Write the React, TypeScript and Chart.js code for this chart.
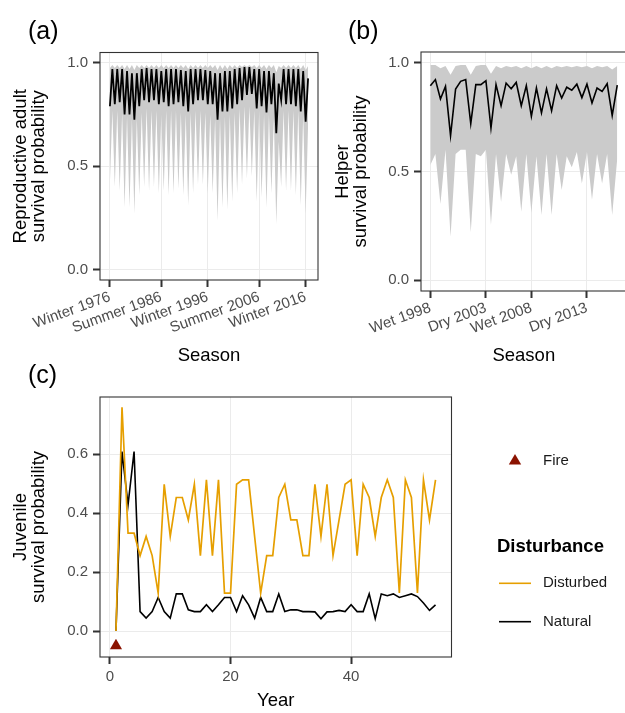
import React, { useEffect, useRef } from 'react';
import { Chart, registerables } from 'chart.js';

Chart.register(...registerables);

const FONT = '"Liberation Sans", Arial, Helvetica, sans-serif';
const TICK_TEXT = '#4D4D4D';
const GRID = '#EBEBEB';
const BORDER = '#333333';
const RIBBON = '#CBCBCB';
const ORANGE = '#E69F00';
const FIRE = '#8B1300';

// ---------- Panel (a): reproductive adults ----------
const adultTickIdx = [0, 21, 40, 61, 80];
const adultTickLabels = ['Winter 1976', 'Summer 1986', 'Winter 1996', 'Summer 2006', 'Winter 2016'];
const adultMean = [
  0.79, 0.97, 0.80, 0.97, 0.81, 0.97, 0.75, 0.96, 0.75, 0.95,
  0.725, 0.95, 0.79, 0.97, 0.82, 0.975, 0.81, 0.97, 0.82, 0.97,
  0.80, 0.96, 0.81, 0.97, 0.79, 0.97, 0.80, 0.97, 0.81, 0.965,
  0.79, 0.96, 0.765, 0.97, 0.80, 0.97, 0.82, 0.97, 0.82, 0.965,
  0.80, 0.96, 0.80, 0.95, 0.725, 0.95, 0.765, 0.96, 0.765, 0.96,
  0.78, 0.97, 0.80, 0.975, 0.82, 0.98, 0.845, 0.98, 0.85, 0.97,
  0.78, 0.97, 0.79, 0.96, 0.76, 0.96, 0.80, 0.95, 0.66, 0.90,
  0.82, 0.97, 0.80, 0.97, 0.80, 0.97, 0.79, 0.97, 0.765, 0.96,
  0.715, 0.925,
];
const adultUpper = [
  0.975, 0.99, 0.975, 0.99, 0.975, 0.99, 0.97, 0.99, 0.97, 0.99,
  0.965, 0.99, 0.975, 0.99, 0.975, 0.99, 0.975, 0.99, 0.975, 0.99,
  0.975, 0.99, 0.975, 0.99, 0.975, 0.99, 0.975, 0.99, 0.975, 0.99,
  0.975, 0.99, 0.97, 0.99, 0.975, 0.99, 0.975, 0.99, 0.975, 0.99,
  0.975, 0.99, 0.975, 0.99, 0.965, 0.99, 0.97, 0.99, 0.97, 0.99,
  0.975, 0.99, 0.975, 0.99, 0.98, 0.99, 0.98, 0.99, 0.98, 0.99,
  0.975, 0.99, 0.975, 0.99, 0.97, 0.99, 0.975, 0.99, 0.955, 0.985,
  0.975, 0.99, 0.975, 0.99, 0.975, 0.99, 0.975, 0.99, 0.97, 0.99,
  0.965, 0.985,
];
const adultLower = [
  0.42, 0.77, 0.40, 0.77, 0.38, 0.76, 0.30, 0.74, 0.30, 0.73,
  0.27, 0.73, 0.36, 0.76, 0.40, 0.78, 0.38, 0.77, 0.40, 0.77,
  0.37, 0.75, 0.38, 0.77, 0.36, 0.77, 0.37, 0.77, 0.39, 0.76,
  0.36, 0.75, 0.31, 0.76, 0.37, 0.77, 0.41, 0.77, 0.41, 0.76,
  0.37, 0.75, 0.37, 0.73, 0.235, 0.73, 0.30, 0.74, 0.29, 0.75,
  0.33, 0.76, 0.37, 0.78, 0.41, 0.79, 0.44, 0.79, 0.45, 0.77,
  0.33, 0.77, 0.35, 0.75, 0.30, 0.75, 0.37, 0.73, 0.22, 0.62,
  0.40, 0.77, 0.38, 0.77, 0.38, 0.77, 0.36, 0.77, 0.31, 0.75,
  0.27, 0.70,
];

// ---------- Panel (b): helpers ----------
const helperTickIdx = [0, 11, 20, 31];
const helperTickLabels = ['Wet 1998', 'Dry 2003', 'Wet 2008', 'Dry 2013'];
const helperMean = [
  0.895, 0.923, 0.834, 0.892, 0.665, 0.88, 0.915, 0.923, 0.72, 0.90,
  0.90, 0.918, 0.70, 0.90, 0.803, 0.907, 0.881, 0.91, 0.803, 0.895,
  0.754, 0.884, 0.77, 0.88, 0.78, 0.895, 0.838, 0.888, 0.874, 0.902,
  0.84, 0.902, 0.815, 0.884, 0.869, 0.904, 0.758, 0.897,
];
const helperUpper = [
  0.99, 0.99, 0.975, 0.985, 0.945, 0.985, 0.99, 0.99, 0.945, 0.985,
  0.99, 0.99, 0.95, 0.985, 0.975, 0.985, 0.98, 0.985, 0.975, 0.985,
  0.975, 0.985, 0.975, 0.985, 0.975, 0.985, 0.98, 0.985, 0.98, 0.985,
  0.98, 0.985, 0.975, 0.985, 0.98, 0.985, 0.97, 0.985,
];
const helperLower = [
  0.53, 0.58, 0.35, 0.60, 0.20, 0.58, 0.60, 0.60, 0.22, 0.58,
  0.57, 0.60, 0.255, 0.58, 0.36, 0.58, 0.485, 0.57, 0.315, 0.58,
  0.31, 0.57, 0.30, 0.58, 0.30, 0.58, 0.415, 0.57, 0.52, 0.59,
  0.445, 0.59, 0.37, 0.58, 0.445, 0.58, 0.30, 0.56,
];

// ---------- Panel (c): juveniles ----------
const juvenileYears = [
  1, 2, 3, 4, 5, 6, 7, 8, 9, 10, 11, 12, 13, 14, 15, 16, 17, 18, 19, 20,
  21, 22, 23, 24, 25, 26, 27, 28, 29, 30, 31, 32, 33, 34, 35, 36, 37, 38, 39, 40,
  41, 42, 43, 44, 45, 46, 47, 48, 49, 50, 51, 52, 53, 54,
];
const disturbed = [
  0, 0.759, 0.332, 0.332, 0.256, 0.321, 0.256, 0.129, 0.498, 0.321,
  0.453, 0.453, 0.377, 0.498, 0.256, 0.513, 0.256, 0.513, 0.129, 0.129,
  0.498, 0.513, 0.513, 0.32, 0.129, 0.256, 0.256, 0.453, 0.498, 0.377,
  0.377, 0.256, 0.256, 0.498, 0.321, 0.498, 0.256, 0.377, 0.498, 0.513,
  0.256, 0.498, 0.453, 0.321, 0.453, 0.513, 0.453, 0.129, 0.513, 0.453,
  0.129, 0.513, 0.377, 0.513,
];
const natural = [
  0, 0.609, 0.428, 0.609, 0.066, 0.044, 0.066, 0.114, 0.066, 0.044,
  0.126, 0.126, 0.072, 0.066, 0.066, 0.089, 0.066, 0.089, 0.114, 0.114,
  0.066, 0.12, 0.089, 0.044, 0.114, 0.066, 0.066, 0.126, 0.066, 0.072,
  0.072, 0.066, 0.066, 0.065, 0.042, 0.065, 0.066, 0.07, 0.066, 0.089,
  0.066, 0.066, 0.126, 0.042, 0.126, 0.12, 0.126, 0.114, 0.12, 0.126,
  0.117, 0.095, 0.07, 0.089,
];
const fireYears = [1];
const fireValues = [-0.05];
const juvenileXTicks = [0, 20, 40];
const juvenileXLabels = ['0', '20', '40'];
const juvenileYTicks = [0, 0.2, 0.4, 0.6];
const survivalYTicks = [0, 0.5, 1];

// ---------- helpers ----------
const pts = (ys: number[], xs?: number[]) => ys.map((y, i) => ({ x: xs ? xs[i] : i, y }));

const borderPlugin = {
  id: 'panelBorder',
  afterDatasetsDraw(chart: any) {
    const { ctx, chartArea: a } = chart;
    ctx.save();
    ctx.strokeStyle = BORDER;
    ctx.lineWidth = 1.1;
    ctx.strokeRect(a.left, a.top, a.right - a.left, a.bottom - a.top);
    ctx.restore();
  },
};

function labelPlugin(text: string, x: number, y: number, extra?: (ctx: CanvasRenderingContext2D) => void) {
  return {
    id: 'label_' + text,
    afterDraw(chart: any) {
      const ctx = chart.ctx as CanvasRenderingContext2D;
      ctx.save();
      ctx.fillStyle = '#000';
      ctx.font = `25px ${FONT}`;
      ctx.textAlign = 'left';
      ctx.textBaseline = 'middle';
      ctx.fillText(text, x, y);
      if (extra) extra(ctx);
      ctx.restore();
    },
  };
}

function xScale(o: any) {
  return {
    type: 'linear',
    min: o.min,
    max: o.max,
    afterBuildTicks: (s: any) => { s.ticks = o.ticks.map((v: number) => ({ value: v })); },
    afterFit: (s: any) => { s.height = o.height; },
    ticks: {
      callback: (_v: any, i: number) => o.labels[i],
      color: TICK_TEXT,
      font: { size: 15, family: FONT },
      padding: o.pad,
      minRotation: o.rot,
      maxRotation: o.rot,
      autoSkip: false,
    },
    grid: { color: GRID, lineWidth: 1, tickLength: 7, tickColor: BORDER, tickWidth: 2 },
    border: { display: false },
    title: {
      display: true,
      text: o.title,
      color: '#000',
      font: { size: 18.5, family: FONT, lineHeight: 1 },
      padding: { top: 0, bottom: o.titlePad },
    },
  };
}

function yScale(o: any) {
  return {
    type: 'linear',
    min: o.min,
    max: o.max,
    afterBuildTicks: (s: any) => { s.ticks = o.ticks.map((v: number) => ({ value: v })); },
    afterFit: (s: any) => { s.width = o.width; },
    ticks: {
      callback: (v: any) => Number(v).toFixed(1),
      color: TICK_TEXT,
      font: { size: 15, family: FONT },
      padding: 5,
    },
    grid: { color: GRID, lineWidth: 1, tickLength: 7, tickColor: BORDER, tickWidth: 2 },
    border: { display: false },
    title: {
      display: true,
      text: o.title,
      color: '#000',
      font: { size: 18.5, family: FONT, lineHeight: 1 },
      padding: { top: o.titlePad, bottom: 0 },
    },
  };
}

const baseOptions = {
  responsive: false,
  animation: false,
  devicePixelRatio: 1,
  events: [],
  plugins: { legend: { display: false }, tooltip: { enabled: false } },
};

function ribbonDatasets(mean: number[], lower: number[], upper: number[], lw: number) {
  return [
    { data: pts(mean), borderColor: '#000', borderWidth: lw, pointRadius: 0, tension: 0, fill: false },
    { data: pts(lower), borderColor: 'rgba(0,0,0,0)', borderWidth: 0, pointRadius: 0, tension: 0, fill: false },
    { data: pts(upper), borderColor: 'rgba(0,0,0,0)', borderWidth: 0, pointRadius: 0, tension: 0, fill: '-1', backgroundColor: RIBBON },
  ];
}

export default function App() {
  const refA = useRef<HTMLCanvasElement>(null);
  const refB = useRef<HTMLCanvasElement>(null);
  const refC = useRef<HTMLCanvasElement>(null);

  useEffect(() => {
    Chart.defaults.font.family = FONT;

    const chartA = new Chart(refA.current as HTMLCanvasElement, {
      type: 'line',
      data: { datasets: ribbonDatasets(adultMean, adultLower, adultUpper, 1.8) as any },
      options: {
        ...baseOptions,
        layout: { padding: { left: 0, top: 52.5, right: 12, bottom: 0 } },
        scales: {
          x: xScale({ min: -4.05, max: 85.05, ticks: adultTickIdx, labels: adultTickLabels, height: 90, pad: 1, rot: 20, title: 'Season', titlePad: 4.75 }),
          y: yScale({ min: -0.05, max: 1.05, ticks: survivalYTicks, width: 100, title: ['Reproductive adult', 'survival probability'], titlePad: 11.25 }),
        },
      } as any,
      plugins: [borderPlugin, labelPlugin('(a)', 28, 32)],
    });

    const chartB = new Chart(refB.current as HTMLCanvasElement, {
      type: 'line',
      data: { datasets: ribbonDatasets(helperMean, helperLower, helperUpper, 1.6) as any },
      options: {
        ...baseOptions,
        layout: { padding: { left: 0, top: 52, right: 13.4, bottom: 0 } },
        scales: {
          x: xScale({ min: -1.85, max: 38.85, ticks: helperTickIdx, labels: helperTickLabels, height: 79, pad: 1, rot: 20, title: 'Season', titlePad: 4.75 }),
          y: yScale({ min: -0.05, max: 1.05, ticks: survivalYTicks, width: 91, title: ['Helper', 'survival probability'], titlePad: 3.25 }),
        },
      } as any,
      plugins: [borderPlugin, labelPlugin('(b)', 18, 32)],
    });

    const legendExtra = (ctx: CanvasRenderingContext2D) => {
      // Fire
      ctx.fillStyle = FIRE;
      ctx.beginPath();
      ctx.moveTo(515, 99);
      ctx.lineTo(521.2, 109.5);
      ctx.lineTo(508.8, 109.5);
      ctx.closePath();
      ctx.fill();
      ctx.fillStyle = '#1A1A1A';
      ctx.font = `15px ${FONT}`;
      ctx.fillText('Fire', 543, 105.5);
      // Disturbance legend
      ctx.fillStyle = '#000';
      ctx.font = `bold 18.5px ${FONT}`;
      ctx.fillText('Disturbance', 497, 191.7);
      ctx.lineWidth = 1.6;
      ctx.strokeStyle = ORANGE;
      ctx.beginPath();
      ctx.moveTo(499, 228.3);
      ctx.lineTo(531, 228.3);
      ctx.stroke();
      ctx.strokeStyle = '#000';
      ctx.beginPath();
      ctx.moveTo(499, 266.7);
      ctx.lineTo(531, 266.7);
      ctx.stroke();
      ctx.fillStyle = '#1A1A1A';
      ctx.font = `15px ${FONT}`;
      ctx.fillText('Disturbed', 543, 228.3);
      ctx.fillText('Natural', 543, 266.7);
    };

    const chartC = new Chart(refC.current as HTMLCanvasElement, {
      type: 'line',
      data: {
        datasets: [
          {
            data: pts(fireValues, fireYears), showLine: false, pointStyle: 'triangle', pointRadius: 7,
            pointBackgroundColor: FIRE, pointBorderColor: FIRE, pointBorderWidth: 0,
          },
          { data: pts(disturbed, juvenileYears), borderColor: ORANGE, borderWidth: 1.7, pointRadius: 0, tension: 0, fill: false },
          { data: pts(natural, juvenileYears), borderColor: '#000', borderWidth: 1.6, pointRadius: 0, tension: 0, fill: false },
        ] as any,
      },
      options: {
        ...baseOptions,
        layout: { padding: { left: 0, top: 42, right: 173.5, bottom: 0 } },
        scales: {
          x: xScale({ min: -1.65, max: 56.65, ticks: juvenileXTicks, labels: juvenileXLabels, height: 56, pad: 4, rot: 0, title: 'Year', titlePad: 2.75 }),
          y: yScale({ min: -0.088, max: 0.794, ticks: juvenileYTicks, width: 100, title: ['Juvenile', 'survival probability'], titlePad: 11.25 }),
        },
      } as any,
      plugins: [borderPlugin, labelPlugin('(c)', 28, 21, legendExtra)],
    });

    return () => {
      chartA.destroy();
      chartB.destroy();
      chartC.destroy();
    };
  }, []);

  return (
    <div style={{ position: 'fixed', left: 0, top: 0, width: 625, height: 713, overflow: 'hidden', background: '#fff' }}>
      <canvas ref={refA} width={330} height={370} style={{ position: 'absolute', left: 0, top: 0, width: 330, height: 370 }} />
      <canvas ref={refB} width={310} height={370} style={{ position: 'absolute', left: 330, top: 0, width: 310, height: 370 }} />
      <canvas ref={refC} width={625} height={358} style={{ position: 'absolute', left: 0, top: 355, width: 625, height: 358 }} />
    </div>
  );
}
